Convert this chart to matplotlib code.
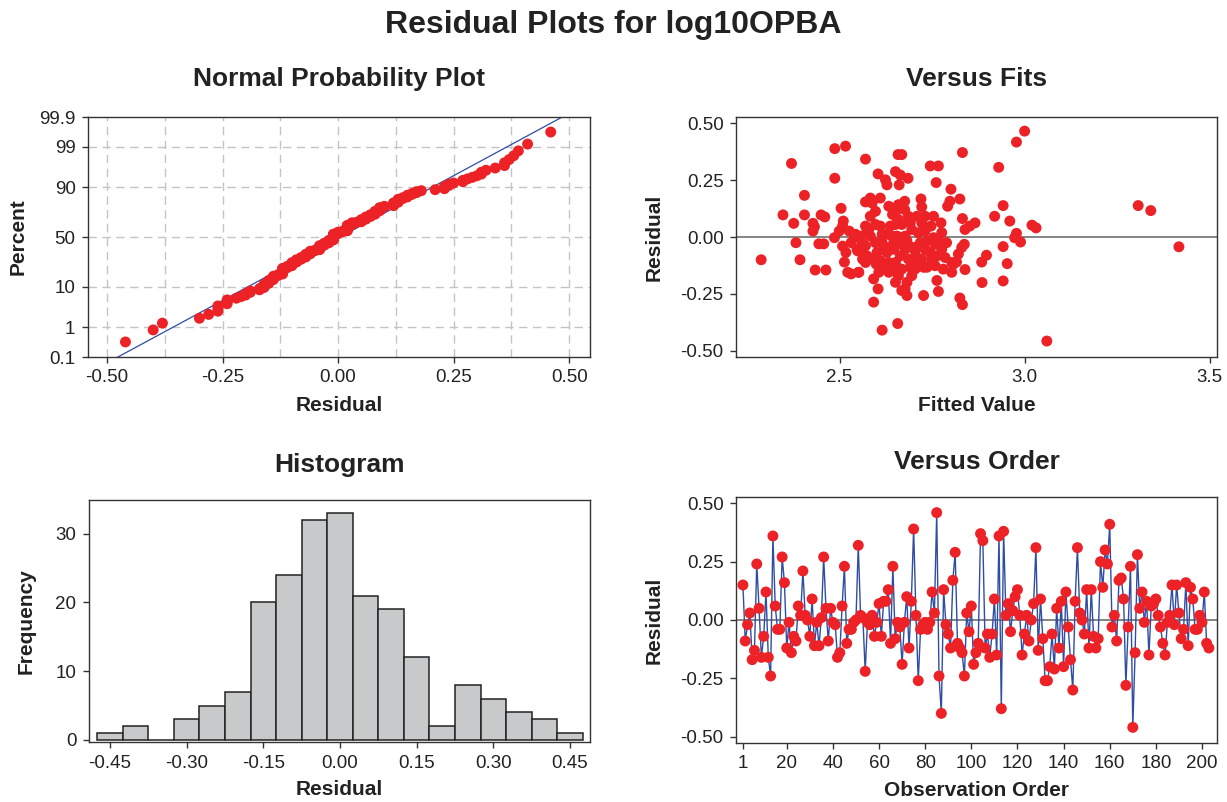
import numpy as np
import matplotlib
matplotlib.use("Agg")
import matplotlib.pyplot as plt
from statistics import NormalDist

plt.rcParams['font.family'] = ['Liberation Sans', 'DejaVu Sans']
plt.rcParams['axes.unicode_minus'] = False
plt.rcParams['text.color'] = '#222222'
plt.rcParams['axes.labelcolor'] = '#222222'
plt.rcParams['xtick.labelcolor'] = '#222222'
plt.rcParams['ytick.labelcolor'] = '#222222'

residuals = [
    0.15, -0.09, -0.02, 0.03, -0.17, -0.13, 0.24, 0.05, -0.16, -0.07,
    0.12, -0.16, -0.24, 0.36, 0.06, -0.04, -0.04, 0.27, 0.16, -0.12,
    -0.01, -0.14, -0.07, -0.09, 0.06, 0.02, 0.21, 0.02, 0.00, -0.07,
    0.09, -0.11, -0.01, -0.11, 0.01, 0.27, 0.05, -0.09, 0.05, -0.01,
    -0.02, -0.16, -0.14, 0.06, 0.23, -0.10, -0.04, -0.04, -0.01, 0.00,
    0.32, 0.02, 0.01, -0.22, -0.01, -0.02, 0.02, -0.07, -0.01, 0.07,
    -0.07, 0.08, 0.08, 0.13, -0.10, 0.23, -0.08, -0.01, -0.03, -0.19,
    -0.01, 0.10, -0.12, 0.08, 0.39, 0.02, -0.26, -0.04, -0.02, -0.01,
    -0.04, -0.01, 0.12, 0.03, 0.46, -0.24, -0.40, 0.13, -0.02, -0.06,
    -0.12, 0.17, 0.29, -0.10, -0.12, -0.14, -0.24, 0.03, -0.05, 0.06,
    -0.19, -0.14, -0.10, 0.37, 0.34, -0.12, -0.06, -0.16, -0.06, 0.09,
    -0.15, 0.36, -0.38, 0.38, 0.02, 0.07, -0.05, 0.04, 0.10, 0.13,
    0.02, -0.15, -0.06, 0.02, -0.09, 0.00, 0.07, 0.31, -0.13, 0.09,
    -0.08, -0.26, -0.26, -0.20, -0.06, -0.21, 0.05, -0.12, 0.08, -0.20,
    0.12, -0.03, -0.17, -0.30, 0.08, 0.31, 0.03, 0.00, -0.06, 0.13,
    -0.12, 0.13, -0.07, -0.12, -0.08, 0.25, 0.14, 0.30, 0.24, 0.41,
    -0.03, 0.02, -0.09, 0.17, 0.18, 0.09, -0.28, -0.03, 0.23, -0.46,
    -0.14, 0.28, 0.05, 0.12, -0.01, 0.08, -0.15, 0.06, 0.07, 0.09,
    0.02, -0.03, -0.10, -0.15, -0.01, 0.02, 0.15, -0.02, 0.15, 0.03,
    -0.08, -0.04, 0.16, -0.11, 0.14, 0.09, -0.04, -0.04, 0.02, -0.01,
    0.12, -0.10, -0.12,
]

fitted = [
    2.288, 2.370, 2.347, 2.376, 2.405, 2.405, 2.382, 2.393, 2.434, 2.463,
    2.428, 2.432, 2.428, 2.450, 2.460, 2.444, 2.457, 2.487, 2.516, 2.487,
    2.504, 2.510, 2.570, 2.570, 2.486, 2.499, 2.508, 2.508, 2.517, 2.513,
    2.522, 2.531, 2.551, 2.526, 2.540, 2.553, 2.562, 2.549, 2.562, 2.531,
    2.658, 2.668, 2.604, 2.624, 2.628, 2.651, 2.664, 2.685, 2.661, 2.745,
    2.767, 2.761, 2.801, 2.798, 2.792, 2.583, 2.610, 2.588, 2.597, 2.583,
    2.720, 2.722, 2.659, 2.676, 2.655, 2.676, 2.686, 2.643, 2.659, 2.651,
    2.668, 2.691, 2.731, 2.754, 2.774, 2.722, 2.747, 2.543, 2.556, 2.579,
    2.583, 2.615, 2.628, 2.642, 2.655, 2.677, 2.695, 2.682, 2.709, 2.731,
    2.745, 2.749, 2.736, 2.704, 2.727, 2.695, 2.682, 2.677, 2.668, 2.682,
    2.727, 2.763, 2.767, 2.785, 2.803, 2.771, 2.754, 2.552, 2.592, 2.604,
    2.592, 2.615, 2.657, 2.547, 2.561, 2.574, 2.588, 2.601, 2.615, 2.628,
    2.610, 2.633, 2.651, 2.655, 2.642, 2.659, 2.668, 2.686, 2.677,
    3.000, 2.978, 2.832, 2.930, 2.825, 2.942, 2.919, 2.960, 2.832, 2.866,
    2.852, 2.839, 3.020, 3.031, 2.978, 2.973, 2.989, 2.837, 2.830, 2.942,
    2.821, 2.816, 2.807, 2.803, 2.839, 2.897, 2.884, 2.953, 2.885, 2.942,
    2.825, 2.832, 3.060,
    3.307, 3.341, 3.417,
    2.597, 2.570, 2.624, 2.646, 2.664, 2.700, 2.718, 2.736, 2.758, 2.776,
    2.763, 2.700, 2.633, 2.619, 2.599, 2.570, 2.561, 2.713, 2.731, 2.776,
    2.789, 2.704, 2.646, 2.668, 2.624, 2.606, 2.722, 2.691, 2.637, 2.597,
    2.709, 2.633, 2.758, 2.780, 2.651, 2.570, 2.610, 2.573,
]
fit_resid = [
    -0.100, 0.323, 0.097, 0.060, 0.183, 0.097, -0.025, -0.100, -0.145, -0.145,
    0.060, 0.045, 0.026, 0.097, 0.088, -0.030, -0.030, 0.388, 0.399, 0.258,
    0.126, 0.070, 0.342, 0.154, -0.003, 0.026, 0.048, -0.040, -0.068, -0.110,
    -0.155, -0.162, -0.155, 0.026, 0.004, -0.003, -0.040, -0.061, -0.097, -0.025,
    0.362, 0.362, 0.277, 0.251, 0.229, 0.287, 0.272, 0.258, 0.229, 0.312,
    0.312, 0.239, 0.210, 0.157, 0.135, 0.171, 0.171, 0.149, 0.113, 0.091,
    0.167, 0.132, 0.142, 0.157, 0.120, 0.120, 0.091, 0.099, 0.077, 0.055,
    0.055, 0.062, 0.091, 0.091, 0.062, 0.062, 0.048, 0.012, 0.004, 0.033,
    0.004, 0.012, 0.012, 0.004, 0.004, 0.004, 0.033, -0.017, -0.090, -0.054,
    -0.068, -0.097, -0.133, -0.141, -0.133, -0.170, -0.199, -0.228, -0.235, -0.257,
    -0.257, -0.191, -0.239, -0.090, -0.112, -0.025, -0.003, -0.155, -0.184, -0.228,
    -0.286, -0.409, -0.380, -0.054, -0.068, -0.083, -0.097, -0.068, -0.025, -0.068,
    -0.104, -0.112, -0.112, -0.155, -0.141, -0.170, -0.141, -0.097, -0.054,
    0.465, 0.417, 0.371, 0.306, 0.167, 0.138, 0.091, 0.070, 0.081, 0.062,
    0.048, 0.033, 0.052, 0.040, 0.016, -0.003, -0.022, -0.032, -0.046, -0.042,
    -0.075, -0.110, -0.120, -0.155, -0.143, -0.080, -0.110, -0.117, -0.200, -0.193,
    -0.268, -0.297, -0.457,
    0.138, 0.116, -0.043,
    -0.025, -0.039, -0.046, -0.054, -0.083, -0.046, -0.025, -0.017, -0.032, -0.054,
    -0.083, -0.119, -0.155, -0.054, -0.119, -0.112, -0.025, 0.019, 0.026, 0.019,
    -0.025, -0.061, -0.025, -0.032, -0.141, -0.155, -0.097, -0.133, 0.048, 0.055,
    0.091, 0.135, -0.126, -0.141, -0.199, 0.048, 0.048, 0.019,
]

# histogram bins (centres) and frequencies
hist_centers = [-0.45, -0.40, -0.35, -0.30, -0.25, -0.20, -0.15, -0.10, -0.05, 0.00,
                0.05, 0.10, 0.15, 0.20, 0.25, 0.30, 0.35, 0.40, 0.45]
hist_counts = [1, 2, 0, 3, 5, 7, 20, 24, 32, 33, 21, 19, 12, 2, 8, 6, 4, 3, 1]

prob_ticks = [0.1, 1, 10, 50, 90, 99, 99.9]
prob_labels = ['0.1', '1', '10', '50', '90', '99', '99.9']

red = '#ec2227'
blue = '#2f4da3'
tick_fs = 13.5
lab_fs = 15
title_fs = 19
dot = 62


def style(ax):
    for s in ax.spines.values():
        s.set_color('#333333')
        s.set_linewidth(1.0)
    ax.tick_params(direction='out', length=4, width=1, labelsize=tick_fs,
                   color='#333333', pad=5)


fig = plt.figure(figsize=(12.27, 8.02), dpi=100)
fig.suptitle('Residual Plots for log10OPBA', fontsize=23, fontweight='bold', y=0.988)

# ---- normal probability plot
ax1 = fig.add_axes([88 / 1227, 1 - 357 / 802, 502 / 1227, 240 / 802])
nd = NormalDist()
r = np.sort(residuals)
n = len(r)
pp = (np.arange(1, n + 1) - 0.3) / (n + 0.4)
zz = np.array([nd.inv_cdf(p) for p in pp])
zlim = np.array([nd.inv_cdf(0.001), nd.inv_cdf(0.999)])
for xv in np.arange(-0.5, 0.51, 0.125):
    ax1.axvline(xv, color='#c4c4c4', lw=1, dashes=(6, 4), zorder=0)
for p in prob_ticks[1:-1]:
    ax1.axhline(nd.inv_cdf(p / 100), color='#c4c4c4', lw=1, dashes=(6, 4), zorder=0)
mu, sd = np.mean(r), np.std(r, ddof=1)
ax1.plot(mu + zlim * sd, zlim, color=blue, lw=0.9, zorder=2)
ax1.scatter(r, zz, s=dot, color=red, edgecolors='none', zorder=3)
ax1.set_ylim(zlim)
ax1.set_xlim(-0.541, 0.545)
ax1.set_yticks([nd.inv_cdf(p / 100) for p in prob_ticks])
ax1.set_yticklabels(prob_labels)
ax1.set_xticks([-0.5, -0.25, 0, 0.25, 0.5])
ax1.set_xticklabels(['-0.50', '-0.25', '0.00', '0.25', '0.50'])
ax1.set_xlabel('Residual', fontsize=lab_fs, fontweight='bold', labelpad=7)
ax1.set_ylabel('Percent', fontsize=lab_fs, fontweight='bold', labelpad=8)
ax1.set_title('Normal Probability Plot', fontsize=title_fs, fontweight='bold', pad=22)
style(ax1)

# ---- versus fits
ax2 = fig.add_axes([736 / 1227, 1 - 357 / 802, 481 / 1227, 240 / 802])
ax2.axhline(0, color='#707070', lw=1.2, zorder=1)
ax2.scatter(fitted, fit_resid, s=dot, color=red, edgecolors='none', zorder=3)
ax2.set_xlim(2.22, 3.52)
ax2.set_ylim(-0.527, 0.527)
ax2.set_xticks([2.5, 3.0, 3.5])
ax2.set_xticklabels(['2.5', '3.0', '3.5'])
ax2.set_yticks([0.5, 0.25, 0, -0.25, -0.5])
ax2.set_yticklabels(['0.50', '0.25', '0.00', '-0.25', '-0.50'])
ax2.set_xlabel('Fitted Value', fontsize=lab_fs, fontweight='bold', labelpad=7)
ax2.set_ylabel('Residual', fontsize=lab_fs, fontweight='bold', labelpad=12)
ax2.set_title('Versus Fits', fontsize=title_fs, fontweight='bold', pad=22)
style(ax2)

# ---- histogram
ax3 = fig.add_axes([89 / 1227, 1 - 742 / 802, 501 / 1227, 242 / 802])
ax3.bar(hist_centers, hist_counts, width=0.05, color='#c8c9cb',
        edgecolor='#222222', linewidth=1.1)
ax3.set_xlim(-0.491, 0.489)
ax3.set_ylim(-0.3, 34.9)
ax3.set_xticks([-0.45, -0.30, -0.15, 0, 0.15, 0.30, 0.45])
ax3.set_xticklabels(['-0.45', '-0.30', '-0.15', '0.00', '0.15', '0.30', '0.45'])
ax3.set_yticks([0, 10, 20, 30])
ax3.set_xlabel('Residual', fontsize=lab_fs, fontweight='bold', labelpad=6)
ax3.set_ylabel('Frequency', fontsize=lab_fs, fontweight='bold', labelpad=14)
ax3.set_title('Histogram', fontsize=title_fs, fontweight='bold', pad=20)
style(ax3)

# ---- versus order
ax4 = fig.add_axes([736 / 1227, 1 - 743 / 802, 481 / 1227, 246 / 802])
obs = np.arange(1, len(residuals) + 1)
ax4.axhline(0, color='#707070', lw=1.2, zorder=1)
ax4.plot(obs, residuals, color=blue, lw=1.0, zorder=2)
ax4.scatter(obs, residuals, s=dot, color=red, edgecolors='none', zorder=3)
ax4.set_xlim(-2, 206.5)
ax4.set_ylim(-0.527, 0.527)
ax4.set_xticks([1] + list(range(20, 201, 20)))
ax4.set_yticks([0.5, 0.25, 0, -0.25, -0.5])
ax4.set_yticklabels(['0.50', '0.25', '0.00', '-0.25', '-0.50'])
ax4.set_xlabel('Observation Order', fontsize=lab_fs, fontweight='bold', labelpad=6)
ax4.set_ylabel('Residual', fontsize=lab_fs, fontweight='bold', labelpad=12)
ax4.set_title('Versus Order', fontsize=title_fs, fontweight='bold', pad=20)
style(ax4)

fig.savefig('out.png', dpi=100)
